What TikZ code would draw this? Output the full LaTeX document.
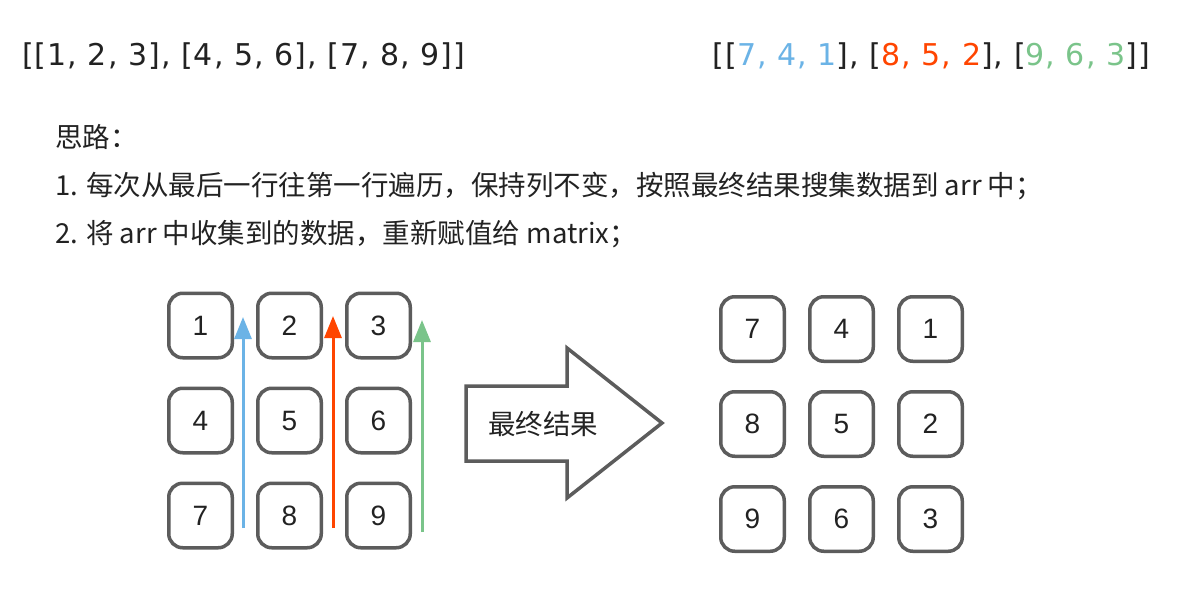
\documentclass[tikz,border=0pt]{standalone}
\usepackage{fontspec}
\setmainfont{Liberation Sans}
\newfontfamily\cjk{Noto Sans CJK SC}
\newfontfamily\listfont[LetterSpace=3.5]{DejaVu Sans}
\usepackage{tikz}
\usetikzlibrary{arrows.meta,positioning}
\definecolor{boxgray}{HTML}{5C5C5C}
\definecolor{txtgray}{HTML}{222222}
\definecolor{scanblue}{HTML}{6BB3E6}
\definecolor{scanred}{HTML}{FF4500}
\definecolor{scangreen}{HTML}{7AC48A}

\begin{document}
\begin{tikzpicture}[x=1pt, y=-1pt, node distance=27pt and 22pt, >=Latex, text=txtgray]
  \tikzstyle{cell}=[draw=boxgray, line width=3.5pt, rounded corners=14pt, minimum width=63.5pt, minimum height=64.5pt, inner sep=0pt, font=\fontsize{28}{34}\selectfont]
  \tikzstyle{scan}=[line width=3pt, -{Triangle[length=22pt,width=17pt]}]
  \tikzstyle{list}=[inner sep=0pt, font=\listfont\fontsize{30}{36}\selectfont]
  \tikzstyle{note}=[anchor=west, inner sep=0pt, font=\cjk\fontsize{27.5}{33}\selectfont]

  \fill[white] (0,0) rectangle (1182,594);
  \useasboundingbox (0,0) rectangle (1182,594);

  \node[list, anchor=west] (before) at (22,56) {[[1, 2, 3], [4, 5, 6], [7, 8, 9]]};
  \node[list, anchor=east] (after) at (1150,56) {[[\textcolor{scanblue}{7, 4, 1}], [\textcolor{scanred}{8, 5, 2}], [\textcolor{scangreen}{9, 6, 3}]]};

  \node[note] (idea) at (55,137) {思路：};
  \node[note] (step1) at (55,186) {1. 每次从最后一行往第一行遍历，保持列不变，按照最终结果搜集数据到 arr 中；};
  \node[note] (step2) at (55,234) {2. 将 arr 中收集到的数据，重新赋值给 matrix；};

  % original matrix
  \node[cell] (a1) at (200.5,325.5) {1};
  \node[cell, right=of a1] (a2) {2};
  \node[cell, right=of a2] (a3) {3};
  \node[cell, below=of a1] (a4) {4};
  \node[cell, right=of a4] (a5) {5};
  \node[cell, right=of a5] (a6) {6};
  \node[cell, below=of a4] (a7) {7};
  \node[cell, right=of a7] (a8) {8};
  \node[cell, right=of a8] (a9) {9};

  \coordinate (blue0) at (243,528);
  \coordinate (blue1) at (243,317);
  \coordinate (red0) at (333,528);
  \coordinate (red1) at (333,316);
  \coordinate (green0) at (422,532);
  \coordinate (green1) at (422,320);
  \draw[scan, scanblue] (blue0) -- (blue1);
  \draw[scan, scanred] (red0) -- (red1);
  \draw[scan, scangreen] (green0) -- (green1);

  % big arrow
  \draw[boxgray, line width=3.5pt, line join=miter] (466,386) -- (567,386) -- (567,348) -- (662,423) -- (567,498) -- (567,461) -- (466,461) -- cycle;
  \node[font=\cjk\fontsize{27.5}{33}\selectfont] (result) at (543,424) {最终结果};

  % rotated matrix
  \node[cell] (b1) at (752.5,329) {7};
  \node[cell, right=of b1] (b2) {4};
  \node[cell, right=of b2] (b3) {1};
  \node[cell, below=of b1] (b4) {8};
  \node[cell, right=of b4] (b5) {5};
  \node[cell, right=of b5] (b6) {2};
  \node[cell, below=of b4] (b7) {9};
  \node[cell, right=of b7] (b8) {6};
  \node[cell, right=of b8] (b9) {3};
\end{tikzpicture}
\end{document}
